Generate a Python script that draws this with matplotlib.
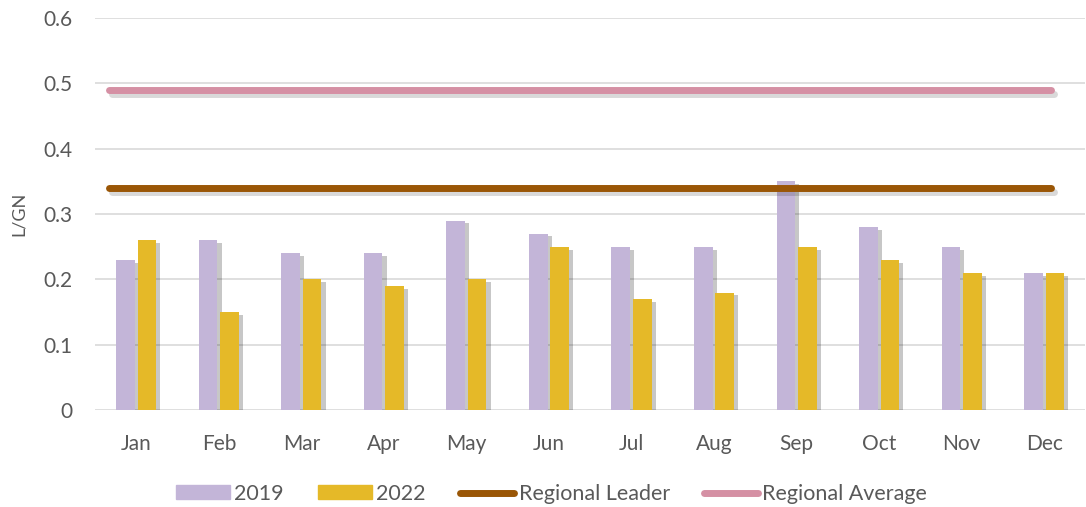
import matplotlib
matplotlib.use("Agg")
import matplotlib.pyplot as plt
import matplotlib.patheffects as pe
from matplotlib.lines import Line2D
from matplotlib.patches import Patch
import numpy as np

months = ["Jan", "Feb", "Mar", "Apr", "May", "Jun", "Jul", "Aug", "Sep", "Oct", "Nov", "Dec"]
v2019 = [0.23, 0.26, 0.24, 0.24, 0.29, 0.27, 0.25, 0.25, 0.35, 0.28, 0.25, 0.21]
v2022 = [0.26, 0.15, 0.20, 0.19, 0.20, 0.25, 0.17, 0.18, 0.25, 0.23, 0.21, 0.21]
regional_leader = 0.34
regional_average = 0.49
yticks = [0, 0.1, 0.2, 0.3, 0.4, 0.5, 0.6]

c2019 = "#C3B5D8"
c2022 = "#E5B928"
cleader = "#9A5606"
cavg = "#D590A4"
txt = "#595959"

plt.rcParams['font.family'] = ['Lato', 'DejaVu Sans']

fig = plt.figure(figsize=(10.86, 5.07), dpi=100)
ax = fig.add_axes([0.0875, 0.191, 0.912, 0.7735])

x = np.arange(len(months))
w = 0.225
gap = 0.035
shadow = [pe.SimplePatchShadow(offset=(3, -2), shadow_rgbFace="#000000", alpha=0.22), pe.Normal()]
b1 = ax.bar(x - (w + gap) / 2, v2019, w, color=c2019, zorder=3)
b2 = ax.bar(x + (w + gap) / 2, v2022, w, color=c2022, zorder=3)
for b in list(b1) + list(b2):
    b.set_path_effects(shadow)

lshadow = [pe.SimpleLineShadow(offset=(2, -3), shadow_color="#000000", alpha=0.15), pe.Normal()]
x0 = x[0] - 0.33
x1 = x[-1] + 0.08
ax.plot([x0, x1], [regional_leader] * 2, color=cleader, lw=5, solid_capstyle="round",
        zorder=4, path_effects=lshadow)
ax.plot([x0, x1], [regional_average] * 2, color=cavg, lw=5, solid_capstyle="round",
        zorder=4, path_effects=lshadow)

ax.set_xlim(-0.5, len(months) - 0.5)
ax.set_ylim(0, 0.6)
ax.set_yticks(yticks)
ax.set_yticklabels(["0", "0.1", "0.2", "0.3", "0.4", "0.5", "0.6"])
ax.set_xticks(x)
ax.set_xticklabels(months)
ax.grid(axis="y", color="#D9D9D9", lw=1.2, zorder=0)
for s in ax.spines.values():
    s.set_visible(False)
ax.tick_params(axis="both", length=0, labelsize=15, labelcolor=txt)
ax.tick_params(axis="x", pad=17)
ax.tick_params(axis="y", pad=16.5)
ax.set_ylabel("L/GN", fontsize=13, color=txt)
ax.yaxis.set_label_coords(-0.069, 0.5)

handles = [
    Patch(color=c2019, label="2019"),
    Patch(color=c2022, label="2022"),
    Line2D([0], [0], color=cleader, lw=5, solid_capstyle="round", label="Regional Leader"),
    Line2D([0], [0], color=cavg, lw=5, solid_capstyle="round", label="Regional Average"),
]
fig.legend(handles=handles, loc="center", bbox_to_anchor=(0.508, 0.026), ncol=4, frameon=False,
           fontsize=15.5, labelcolor=txt, handlelength=2.5, handleheight=0.6, handletextpad=0.2,
           columnspacing=1.6)

fig.savefig("out.png", dpi=100)
